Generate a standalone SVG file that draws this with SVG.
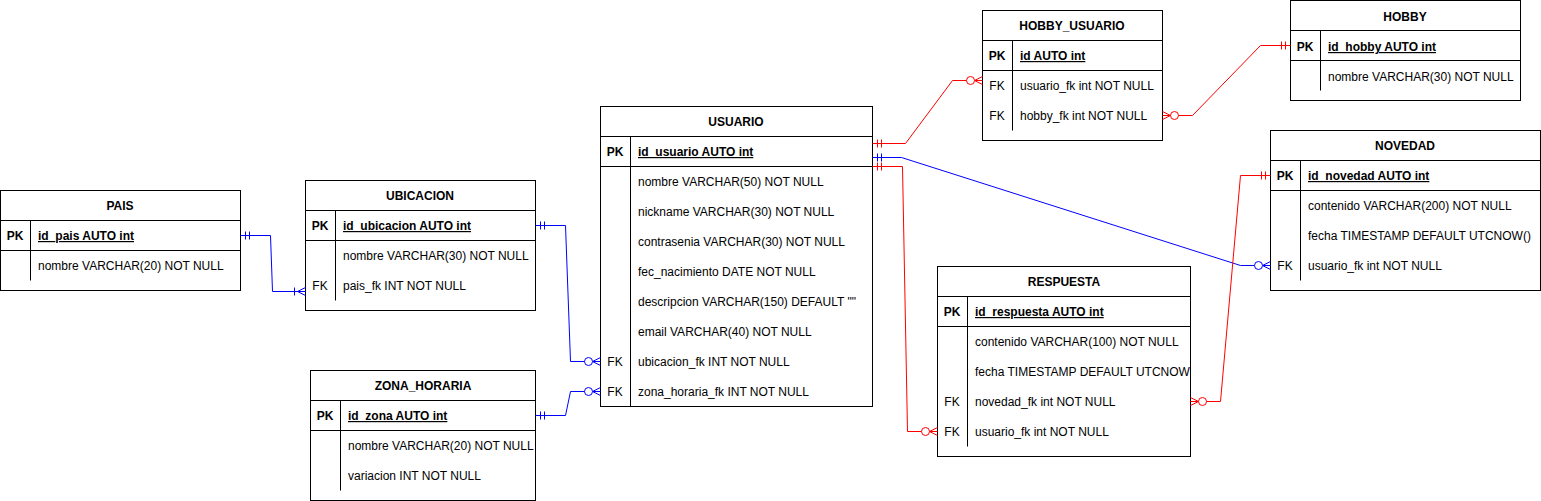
<svg xmlns="http://www.w3.org/2000/svg" width="1541" height="501" viewBox="0 0 1541 501">
<style>
text{font-family:"Liberation Sans",Arial,Helvetica,sans-serif;font-size:12px;fill:#000}
.t{font-weight:bold;text-anchor:middle}
.k{text-anchor:middle}
.pk{font-weight:bold;text-anchor:middle}
.pf{font-weight:bold;text-decoration:underline}
.box{fill:#fff;stroke:#000;stroke-width:1}
.ln{stroke:#000;stroke-width:1;fill:none}
.cb{stroke:#0000FF;stroke-width:1;fill:none}
.cr{stroke:#FF0000;stroke-width:1;fill:none}
</style>
<defs>
<marker id="oneB" viewBox="-20 -10 30 20" markerWidth="30" markerHeight="20" refX="0" refY="0" markerUnits="userSpaceOnUse" orient="auto-start-reverse">
<path stroke="#0000FF" stroke-width="1" fill="none" d="M-5,-4V4M-9,-4V4"/>
</marker>
<marker id="oneR" viewBox="-20 -10 30 20" markerWidth="30" markerHeight="20" refX="0" refY="0" markerUnits="userSpaceOnUse" orient="auto-start-reverse">
<path stroke="#FF0000" stroke-width="1" fill="none" d="M-5,-4V4M-9,-4V4"/>
</marker>
<marker id="zmB" viewBox="-20 -10 30 20" markerWidth="30" markerHeight="20" refX="0" refY="0" markerUnits="userSpaceOnUse" orient="auto-start-reverse">
<path stroke="#0000FF" stroke-width="1" fill="none" d="M-8,0L0,-4M-8,0L0,4"/>
<circle stroke="#0000FF" stroke-width="1" fill="#fff" cx="-12" cy="0" r="4"/>
</marker>
<marker id="zmR" viewBox="-20 -10 30 20" markerWidth="30" markerHeight="20" refX="0" refY="0" markerUnits="userSpaceOnUse" orient="auto-start-reverse">
<path stroke="#FF0000" stroke-width="1" fill="none" d="M-8,0L0,-4M-8,0L0,4"/>
<circle stroke="#FF0000" stroke-width="1" fill="#fff" cx="-12" cy="0" r="4"/>
</marker>
<marker id="omB" viewBox="-20 -10 30 20" markerWidth="30" markerHeight="20" refX="0" refY="0" markerUnits="userSpaceOnUse" orient="auto-start-reverse">
<path stroke="#0000FF" stroke-width="1" fill="none" d="M-8,0L0,-4M-8,0L0,4M-11,-4V4"/>
</marker>
</defs>
<rect width="1541" height="501" fill="#fff"/>

<g id="PAIS">
<rect class="box" x="0.5" y="190.5" width="240" height="100"/>
<path class="ln" d="M0.5,220.5H240.5M0.5,250.5H240.5M30.5,220.5V280.5"/>
<text class="t" x="120" y="210">PAIS</text>
<text class="pk" x="15" y="240">PK</text>
<text class="pf" x="38" y="240">id_pais AUTO int</text>
<text x="38" y="270">nombre VARCHAR(20) NOT NULL</text>
</g>

<g id="UBICACION">
<rect class="box" x="305.5" y="180.5" width="230" height="130"/>
<path class="ln" d="M305.5,210.5H535.5M305.5,240.5H535.5M335.5,210.5V300.5"/>
<text class="t" x="420" y="200">UBICACION</text>
<text class="pk" x="320" y="230">PK</text>
<text class="pf" x="343" y="230">id_ubicacion AUTO int</text>
<text x="343" y="260">nombre VARCHAR(30) NOT NULL</text>
<text class="k" x="320" y="290">FK</text>
<text x="343" y="290">pais_fk INT NOT NULL</text>
</g>

<g id="ZONA_HORARIA">
<rect class="box" x="310.5" y="370.5" width="225" height="130"/>
<path class="ln" d="M310.5,400.5H535.5M310.5,430.5H535.5M340.5,400.5V490.5"/>
<text class="t" x="423" y="390">ZONA_HORARIA</text>
<text class="pk" x="325" y="420">PK</text>
<text class="pf" x="348" y="420">id_zona AUTO int</text>
<text x="348" y="450">nombre VARCHAR(20) NOT NULL</text>
<text x="348" y="480">variacion INT NOT NULL</text>
</g>

<g id="USUARIO">
<rect class="box" x="600.5" y="106.5" width="272" height="300"/>
<path class="ln" d="M600.5,136.5H872.5M600.5,166.5H872.5M630.5,136.5V406.5"/>
<text class="t" x="736" y="126">USUARIO</text>
<text class="pk" x="615" y="156">PK</text>
<text class="pf" x="638" y="156">id_usuario AUTO int</text>
<text x="638" y="186">nombre VARCHAR(50) NOT NULL</text>
<text x="638" y="216">nickname VARCHAR(30) NOT NULL</text>
<text x="638" y="246">contrasenia VARCHAR(30) NOT NULL</text>
<text x="638" y="276">fec_nacimiento DATE NOT NULL</text>
<text x="638" y="306">descripcion VARCHAR(150) DEFAULT ""</text>
<text x="638" y="336">email VARCHAR(40) NOT NULL</text>
<text class="k" x="615" y="366">FK</text>
<text x="638" y="366">ubicacion_fk INT NOT NULL</text>
<text class="k" x="615" y="396">FK</text>
<text x="638" y="396">zona_horaria_fk INT NOT NULL</text>
</g>

<g id="HOBBY_USUARIO">
<rect class="box" x="982.5" y="10.5" width="180" height="130"/>
<path class="ln" d="M982.5,40.5H1162.5M982.5,70.5H1162.5M1012.5,40.5V130.5"/>
<text class="t" x="1072" y="30">HOBBY_USUARIO</text>
<text class="pk" x="997" y="60">PK</text>
<text class="pf" x="1020" y="60">id AUTO int</text>
<text class="k" x="997" y="90">FK</text>
<text x="1020" y="90">usuario_fk int NOT NULL</text>
<text class="k" x="997" y="120">FK</text>
<text x="1020" y="120">hobby_fk int NOT NULL</text>
</g>

<g id="HOBBY">
<rect class="box" x="1290.5" y="0.5" width="230" height="100"/>
<path class="ln" d="M1290.5,30.5H1520.5M1290.5,60.5H1520.5M1320.5,30.5V90.5"/>
<text class="t" x="1405" y="21">HOBBY</text>
<text class="pk" x="1305" y="51">PK</text>
<text class="pf" x="1328" y="51">id_hobby AUTO int</text>
<text x="1328" y="81">nombre VARCHAR(30) NOT NULL</text>
</g>

<g id="NOVEDAD">
<rect class="box" x="1270.5" y="130.5" width="270" height="160"/>
<path class="ln" d="M1270.5,160.5H1540.5M1270.5,190.5H1540.5M1300.5,160.5V280.5"/>
<text class="t" x="1405" y="150">NOVEDAD</text>
<text class="pk" x="1285" y="180">PK</text>
<text class="pf" x="1308" y="180">id_novedad AUTO int</text>
<text x="1308" y="210">contenido VARCHAR(200) NOT NULL</text>
<text x="1308" y="240">fecha TIMESTAMP DEFAULT UTCNOW()</text>
<text class="k" x="1285" y="270">FK</text>
<text x="1308" y="270">usuario_fk int NOT NULL</text>
</g>

<g id="RESPUESTA">
<rect class="box" x="937.5" y="266.5" width="253" height="190"/>
<path class="ln" d="M937.5,296.5H1190.5M937.5,326.5H1190.5M967.5,296.5V446.5"/>
<text class="t" x="1064" y="286">RESPUESTA</text>
<text class="pk" x="952" y="316">PK</text>
<text class="pf" x="975" y="316">id_respuesta AUTO int</text>
<text x="975" y="346">contenido VARCHAR(100) NOT NULL</text>
<text x="975" y="376">fecha TIMESTAMP DEFAULT UTCNOW</text>
<text class="k" x="952" y="406">FK</text>
<text x="975" y="406">novedad_fk int NOT NULL</text>
<text class="k" x="952" y="436">FK</text>
<text x="975" y="436">usuario_fk int NOT NULL</text>
</g>

<g id="connectors">
<path class="cb" d="M240.5,235.5H270.5L272.5,291.5H305.5" marker-start="url(#oneB)" marker-end="url(#omB)"/>
<path class="cb" d="M535.5,225.5H565.5L570.5,361.5H600.5" marker-start="url(#oneB)" marker-end="url(#zmB)"/>
<path class="cb" d="M535.5,415.5H565.5L570.5,391.5H600.5" marker-start="url(#oneB)" marker-end="url(#zmB)"/>
<path class="cr" d="M872.5,143.5H905.5L952.5,80.5H982.5" marker-start="url(#oneR)" marker-end="url(#zmR)"/>
<path class="cr" d="M1290.5,45.5H1260.5L1192.5,115.5H1162.5" marker-start="url(#oneR)" marker-end="url(#zmR)"/>
<path class="cb" d="M872.5,157.5H901.5L1240.5,265.5H1270.5" marker-start="url(#oneB)" marker-end="url(#zmB)"/>
<path class="cr" d="M872.5,166.5H902.5L907.5,431.5H937.5" marker-start="url(#oneR)" marker-end="url(#zmR)"/>
<path class="cr" d="M1270.5,175.5H1240.5L1220.5,401.5H1190.5" marker-start="url(#oneR)" marker-end="url(#zmR)"/>
</g>
</svg>
